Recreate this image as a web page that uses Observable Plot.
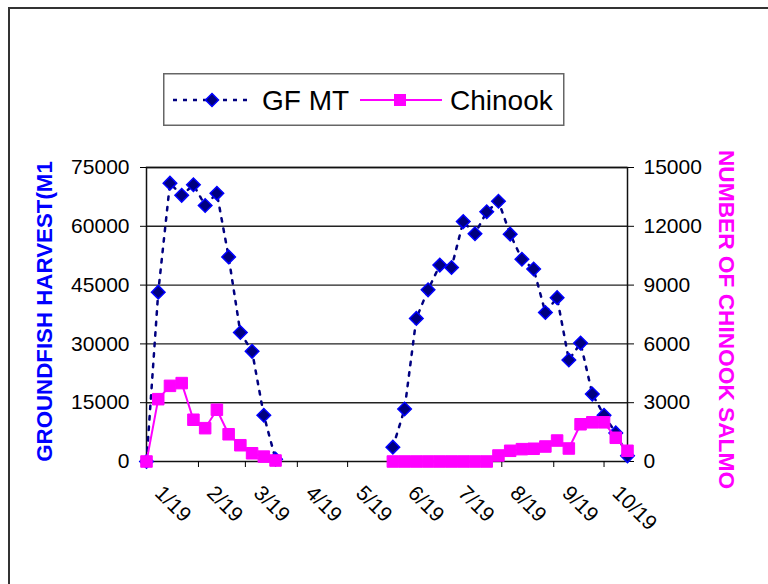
<!DOCTYPE html>
<html><head><meta charset="utf-8">
<script src="https://cdn.jsdelivr.net/npm/d3@7"></script>
<script src="https://cdn.jsdelivr.net/npm/@observablehq/plot@0.6"></script>
<style>
body{margin:0;background:#fff;overflow:hidden;}
#wrap{position:relative;width:768px;height:584px;overflow:hidden;font-family:"Liberation Sans",Arial,sans-serif;background:#fff;}
#border{position:absolute;left:8px;top:7px;width:900px;height:900px;border:2px solid #333;}
#chart{position:absolute;left:0;top:0;}
#legend{position:absolute;left:163px;top:73px;}
</style></head><body><div id="wrap"><div id="border"></div><div id="chart"></div><div id="legend"></div></div>
<script>
const dates = [
  "2019-01-01","2019-01-08","2019-01-15","2019-01-22","2019-01-29","2019-02-05",
  "2019-02-12","2019-02-19","2019-02-26","2019-03-05","2019-03-12","2019-03-19",
  "2019-05-28","2019-06-04","2019-06-11","2019-06-18","2019-06-25","2019-07-02",
  "2019-07-09","2019-07-16","2019-07-23","2019-07-30","2019-08-06","2019-08-13",
  "2019-08-20","2019-08-27","2019-09-03","2019-09-10","2019-09-17","2019-09-24",
  "2019-10-01","2019-10-08","2019-10-15"
];
const gfMt = [
  0, 43200, 71000, 67900, 70600, 65300, 68400, 52200, 32900, 28100, 11800, 600,
  3650, 13400, 36500, 43800, 50100, 49500, 61200, 58100, 63700, 66400, 58000, 51600,
  49100, 38000, 41800, 25900, 30200, 17200, 11800, 7300, 1450
];
const chinook = [
  0, 3180, 3860, 4000, 2130, 1700, 2640, 1390, 830, 420, 250, 50,
  0, 0, 0, 0, 0, 0, 0, 0, 0, 306, 546, 630,
  650, 765, 1070, 663, 1900, 2000, 2000, 1210, 546
];
const xTicks = ["2019-01-01","2019-02-01","2019-03-01","2019-04-01","2019-05-01",
  "2019-06-01","2019-07-01","2019-08-01","2019-09-01","2019-10-01"];
const xDomain = ["2019-01-01","2019-10-15"];
const leftTicks = [0, 15000, 30000, 45000, 60000, 75000];
const rightTicks = [0, 3000, 6000, 9000, 12000, 15000];
const seriesNames = ["GF MT", "Chinook"];
const leftTitle = "GROUNDFISH HARVEST(M1";
const rightTitle = "NUMBER OF CHINOOK SALMO";

const ratio = leftTicks[leftTicks.length-1] / rightTicks[rightTicks.length-1];
const seasonBreak = new Date("2019-04-15");
const data = dates.map((d, i) => ({
  date: new Date(d), gf: gfMt[i], ch: chinook[i] * ratio,
  season: new Date(d) < seasonBreak ? "a" : "b"
}));

const chart = Plot.plot({
  width: 768, height: 584,
  marginLeft: 146, marginRight: 141, marginTop: 167, marginBottom: 123,
  style: {fontFamily: "'Liberation Sans', Arial, sans-serif", fontSize: "21px", background: "transparent", color: "#000", overflow: "visible"},
  x: {type: "utc", domain: xDomain.map(d => new Date(d))},
  y: {domain: [0, leftTicks[leftTicks.length-1]]},
  marks: [
    Plot.ruleY(leftTicks.slice(1), {stroke: "#222", strokeWidth: 1.4}),
    Plot.frame({stroke: "#111", strokeWidth: 1.5}),
    Plot.axisY({ticks: leftTicks, tickSize: 6, tickPadding: 11, label: null, tickFormat: d => String(d)}),
    Plot.axisY({anchor: "right", ticks: rightTicks.map(v => v * ratio), tickFormat: d => String(Math.round(d / ratio)), tickSize: 6, tickPadding: 10, label: null}),
    Plot.axisX({ticks: xTicks.map(d => new Date(d)), tickFormat: d3.utcFormat("%-m/%y"), tickRotate: 45, tickSize: 0, tickPadding: 12, dx: 12, dy: 16, label: null}),
    Plot.axisX({ticks: xTicks.map(d => new Date(d)), text: null, tickSize: 6, label: null}),
    Plot.text([leftTitle], {text: d => d, frameAnchor: "left", textAnchor: "middle", dx: -102, dy: -3, rotate: -90, fill: "#0000ff", fontWeight: "bold", fontSize: 22.3}),
    Plot.text([rightTitle], {text: d => d, frameAnchor: "right", textAnchor: "middle", dx: 99, dy: 5, rotate: 90, fill: "#ff00ff", fontWeight: "bold", fontSize: 22.7}),
    Plot.line(data, {x: "date", y: "gf", z: "season", stroke: "#000080", strokeWidth: 2.5, strokeDasharray: "3.5,7"}),
    Plot.dot(data, {x: "date", y: "gf", symbol: "square", rotate: 45, r: 5.4, fill: "#000080", stroke: "#0000ff", strokeWidth: 1.5}),
    Plot.line(data, {x: "date", y: "ch", z: "season", stroke: "#ff00ff", strokeWidth: 2}),
    Plot.dot(data, {x: "date", y: "ch", symbol: "square", r: 6.5, fill: "#ff00ff", stroke: "#ff00ff", strokeWidth: 1})
  ]
});
document.getElementById("chart").append(chart);

// legend
const leg = d3.create("svg").attr("width", 402).attr("height", 54)
  .style("font-family", "'Liberation Sans', Arial, sans-serif");
leg.append("rect").attr("x", 0.75).attr("y", 0.75).attr("width", 400).attr("height", 51.5)
  .attr("fill", "#fff").attr("stroke", "#666").attr("stroke-width", 1.5);
leg.append("line").attr("x1", 10).attr("x2", 88).attr("y1", 27).attr("y2", 27)
  .attr("stroke", "#000080").attr("stroke-width", 2.5).attr("stroke-dasharray", "4,6");
leg.append("path").attr("d", "M49,20.5L55.5,27L49,33.5L42.5,27Z")
  .attr("fill", "#000080").attr("stroke", "#0000ff").attr("stroke-width", 1.5);
leg.append("text").attr("x", 99).attr("y", 37).attr("font-size", 28).text(seriesNames[0]);
leg.append("line").attr("x1", 197).attr("x2", 279).attr("y1", 27).attr("y2", 27)
  .attr("stroke", "#ff00ff").attr("stroke-width", 2);
leg.append("rect").attr("x", 231.5).attr("y", 21.5).attr("width", 11).attr("height", 11)
  .attr("fill", "#ff00ff").attr("stroke", "#ff00ff");
leg.append("text").attr("x", 287).attr("y", 37).attr("font-size", 28).text(seriesNames[1]);
document.getElementById("legend").append(leg.node());
</script>
</body></html>
